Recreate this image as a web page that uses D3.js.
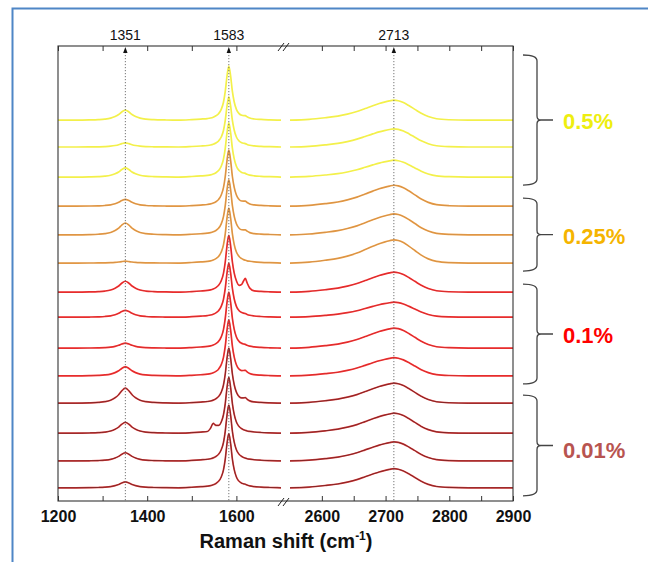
<!DOCTYPE html>
<html>
<head>
<meta charset="utf-8">
<script src="https://cdn.jsdelivr.net/npm/d3@7/dist/d3.min.js"></script>
<style>
  body { margin: 0; background: #fff; }
  svg { display: block; font-family: "Liberation Sans", Arial, sans-serif; }
</style>
</head>
<body>
<div id="graf"></div>
<script>
// Datos: grupos de concentración
const groupNames = ["0.5%", "0.25%", "0.1%", "0.01%"];
const groupSizes = [3, 3, 4, 4];

// Picos marcados arriba
const peakMarks = [1351, 1583, 2713];

// Rejilla de número de onda (cm-1) y perfiles de pico
const wLeft = [1200, 1240, 1270, 1290, 1305, 1318, 1328, 1336, 1343, 1351, 1359,
  1366, 1374, 1384, 1397, 1415, 1440, 1470, 1500, 1520, 1535, 1542, 1548, 1554,
  1560, 1566, 1571, 1575, 1579, 1583, 1587, 1591, 1595, 1600, 1606, 1612, 1616,
  1620, 1624, 1630, 1640, 1655, 1675, 1700];
const dShape = [0, 0, 0.02, 0.05, 0.1, 0.2, 0.36, 0.56, 0.82, 1, 0.82,
  0.56, 0.36, 0.2, 0.1, 0.05, 0.02, 0, 0, 0, 0, 0, 0, 0,
  0, 0, 0, 0, 0, 0, 0, 0, 0, 0, 0, 0, 0,
  0, 0, 0, 0, 0, 0, 0];
const gShape = [0, 0, 0, 0, 0, 0, 0, 0, 0, 0, 0,
  0, 0, 0, 0, 0, 0, 0, 0.01, 0.02, 0.03, 0.04, 0.055, 0.08,
  0.12, 0.2, 0.33, 0.53, 0.82, 1, 0.82, 0.53, 0.34, 0.2, 0.12, 0.08, 0.062,
  0.05, 0.04, 0.032, 0.022, 0.013, 0.006, 0];
const dpShape = [0, 0, 0, 0, 0, 0, 0, 0, 0, 0, 0,
  0, 0, 0, 0, 0, 0, 0, 0, 0, 0, 0, 0, 0,
  0, 0, 0, 0, 0, 0, 0, 0, 0, 0, 0, 0.3, 0.7,
  1, 0.65, 0.2, 0, 0, 0, 0];
const shShape = [0, 0, 0, 0, 0, 0, 0, 0, 0, 0, 0,
  0, 0, 0, 0, 0, 0, 0, 0, 0, 0, 0.4, 1, 0.5,
  0.15, 0, 0, 0, 0, 0, 0, 0, 0, 0, 0, 0, 0,
  0, 0, 0, 0, 0, 0, 0];

const wRight = [2550, 2580, 2605, 2625, 2640, 2655, 2668, 2680, 2690, 2698, 2706,
  2713, 2720, 2728, 2737, 2746, 2756, 2767, 2780, 2800, 2830, 2865, 2900];
const twoDShape = [0, 0.04, 0.12, 0.2, 0.3, 0.43, 0.58, 0.72, 0.83, 0.9, 0.96,
  1, 0.97, 0.88, 0.72, 0.54, 0.34, 0.18, 0.07, 0.02, 0, 0, 0];

// Espectros (de arriba a abajo): desplazamiento y alturas (u.a.)
const offsets = [83.7, 77.8, 71.2, 64.8, 58.5, 52.3, 45.9, 40.4, 33.6, 27.5, 21.5, 14.9, 8.8, 2.9];
const dHeights = [2.2, 0.9, 2.0, 1.5, 2.6, 0.4, 2.4, 1.5, 1.1, 2.0, 3.3, 2.4, 1.8, 1.3];
const gHeights = [11.9, 11.0, 11.9, 12.3, 12.1, 12.1, 12.5, 11.9, 12.3, 12.3, 12.1, 12.3, 12.3, 11.9];
const dpHeights = [0.4, 0.2, 0.2, 0.5, 0.5, 0, 2.4, 0.2, 0.2, 0.6, 0.6, 0, 0, 0.2];
const shHeights = [0, 0, 0, 0, 0, 0, 0, 0, 0, 0, 0, 1.5, 0, 0];
const twoDHeights = [4.4, 4.0, 3.7, 4.6, 4.6, 5.1, 4.4, 3.3, 4.4, 4.0, 4.4, 4.4, 4.2, 4.2];

// Estilos
const lineColors = ["#f3f04a", "#ef9f45", "#ff2f2f", "#e03c3c"];
const overColors = [null, "#8a6a4a", "#6a2a2a", "#4a1818"];
const overOpacity = [0, 0.35, 0.4, 0.9];
const labelColors = ["#eeee10", "#f5b400", "#ff0000", "#b85450"];

// Dimensiones
const anchoTotal = 648, altoTotal = 562;
const margins = { left: 58, right: 513, top: 46, bottom: 501 };

const svg = d3.select("#graf").append("svg")
  .attr("width", anchoTotal).attr("height", altoTotal);

// Borde azul
svg.append("path")
  .attr("d", `M12.5,${altoTotal} L12.5,8.5 L${anchoTotal},8.5`)
  .attr("fill", "none").attr("stroke", "#4f86c6").attr("stroke-width", 2);

// Escalas
const xL = d3.scaleLinear().domain([1200, 1700]).range([margins.left, 281]);
const xR = d3.scaleLinear().domain([2550, 2900]).range([290, margins.right]);
const y = d3.scaleLinear().domain([0, 100]).range([margins.bottom, margins.top]);

// Espectros
const line = (xs) => d3.line().x((d) => xs(d.w)).y((d) => y(d.v)).curve(d3.curveMonotoneX);

const groupOf = [];
groupSizes.forEach((n, g) => { for (let k = 0; k < n; k++) groupOf.push(g); });

const spectra = offsets.map((o, i) => ({
  g: groupOf[i],
  leftPts: wLeft.map((w, j) => ({
    w,
    v: o + dHeights[i] * dShape[j] + gHeights[i] * gShape[j] +
      dpHeights[i] * dpShape[j] + shHeights[i] * shShape[j],
  })),
  rightPts: wRight.map((w, j) => ({ w, v: o + twoDHeights[i] * twoDShape[j] })),
}));

const gs = svg.append("g").attr("class", "espectros");
spectra.forEach((s) => {
  [[s.leftPts, xL], [s.rightPts, xR]].forEach(([pts, xs]) => {
    gs.append("path").attr("d", line(xs)(pts))
      .attr("fill", "none").attr("stroke", lineColors[s.g]).attr("stroke-width", 1.7);
    if (overColors[s.g]) {
      gs.append("path").attr("d", line(xs)(pts))
        .attr("fill", "none").attr("stroke", overColors[s.g])
        .attr("stroke-opacity", overOpacity[s.g]).attr("stroke-width", 0.7);
    }
  });
});

// Líneas punteadas y flechas en los picos
peakMarks.forEach((p) => {
  const px = p < 2000 ? xL(p) : xR(p);
  svg.append("line")
    .attr("x1", px).attr("x2", px).attr("y1", margins.top + 6).attr("y2", margins.bottom)
    .attr("stroke", "#666").attr("stroke-width", 0.9).attr("stroke-dasharray", "1.2,1.8");
  svg.append("path")
    .attr("d", `M${px},${margins.top + 1} L${px - 2.2},${margins.top + 7} L${px + 2.2},${margins.top + 7} Z`)
    .attr("fill", "#111");
  svg.append("text")
    .attr("x", px).attr("y", margins.top - 6)
    .attr("text-anchor", "middle").style("font-size", "14px").style("fill", "#111")
    .text(p);
});

// Marco
svg.append("rect")
  .attr("x", margins.left).attr("y", margins.top)
  .attr("width", margins.right - margins.left).attr("height", margins.bottom - margins.top)
  .attr("fill", "none").attr("stroke", "#333").attr("stroke-width", 1.1);

// Ejes
const ticksL = [1200, 1300, 1400, 1500, 1600];
const ticksR = [2600, 2650, 2700, 2750, 2800, 2850, 2900];

const styleAxis = (sel) => {
  sel.select(".domain").remove();
  sel.selectAll(".tick line").attr("stroke", "#333");
  sel.selectAll("text").style("font-size", "16px").style("font-weight", "bold").style("fill", "#111");
};

[[xL, ticksL, 200], [xR, ticksR, 100]].forEach(([xs, tv, step]) => {
  svg.append("g").attr("transform", `translate(0,${margins.bottom})`)
    .call(d3.axisBottom(xs).tickValues(tv).tickSizeInner(-5).tickSizeOuter(0).tickPadding(10)
      .tickFormat((d) => (d % step === 0 ? d : "")))
    .call(styleAxis);
  svg.append("g").attr("transform", `translate(0,${margins.top})`)
    .call(d3.axisTop(xs).tickValues(tv).tickSizeInner(-5).tickSizeOuter(0).tickFormat(""))
    .call(styleAxis);
});

// Marcas de corte //
[margins.top, margins.bottom].forEach((yy) => {
  [278, 283].forEach((bx) => {
    svg.append("line")
      .attr("x1", bx).attr("y1", yy + 5).attr("x2", bx + 6).attr("y2", yy - 3)
      .attr("stroke", "#222").attr("stroke-width", 1);
  });
});

// Título del eje
const title = svg.append("text")
  .attr("x", 286).attr("y", 548).attr("text-anchor", "middle")
  .style("font-size", "20px").style("font-weight", "bold").style("fill", "#111");
title.append("tspan").text("Raman shift (cm");
title.append("tspan").attr("dy", -8).style("font-size", "12px").text("-1");
title.append("tspan").attr("dy", 8).text(")");

// Llaves y etiquetas de grupo
let idx = 0;
groupSizes.forEach((n, g) => {
  const first = idx, last = idx + n - 1;
  idx += n;
  const y0 = g === 0 ? margins.top + 9 : y(offsets[first]) - 8;
  const y1 = y(offsets[last]) + 8;
  const ym = (y0 + y1) / 2;
  const bx = 537;
  svg.append("path")
    .attr("d", `M523,${y0} Q${bx},${y0} ${bx},${y0 + 6} L${bx},${ym - 4} Q${bx},${ym} ${bx + 4},${ym}` +
      ` Q${bx},${ym} ${bx},${ym + 4} L${bx},${y1 - 6} Q${bx},${y1} 523,${y1}` +
      ` M${bx + 4},${ym} L553,${ym}`)
    .attr("fill", "none").attr("stroke", "#444").attr("stroke-width", 1.3);
  svg.append("text")
    .attr("x", 563).attr("y", ym + (g === 3 ? 5 : 1)).attr("dy", "0.36em")
    .style("font-size", "22px").style("font-weight", "bold").style("fill", labelColors[g])
    .text(groupNames[g]);
});
</script>
</body>
</html>
